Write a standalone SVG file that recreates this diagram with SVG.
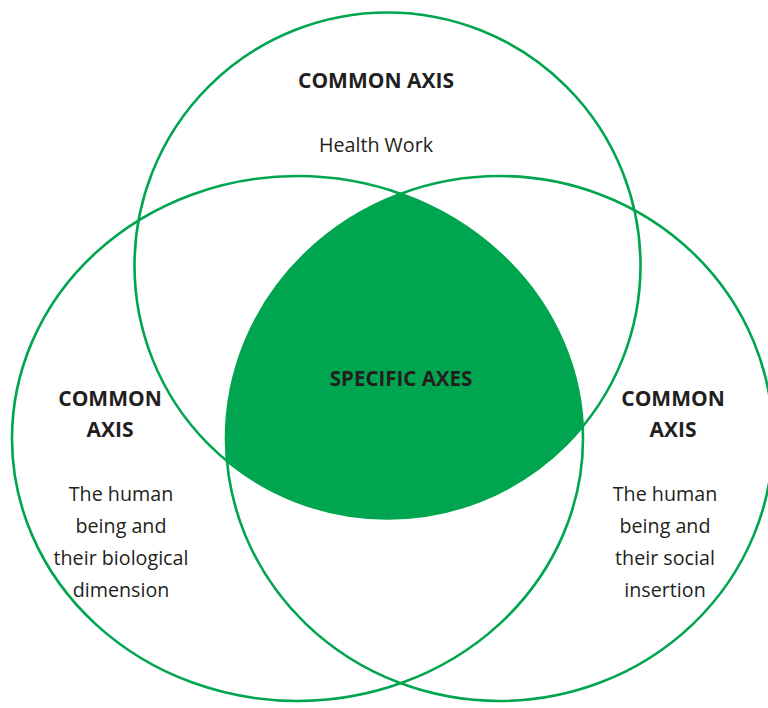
<svg xmlns="http://www.w3.org/2000/svg" width="768" height="708" viewBox="0 0 768 708">
<style>
.ring{fill:none;stroke:#00a550;stroke-width:2.6}
.t{font-family:"Open Sans","Noto Sans","Liberation Sans",sans-serif;fill:#231f20;text-anchor:middle}
.b{font-weight:700;font-size:21px}
.r{font-size:19.7px}
</style>
<defs>
<clipPath id="cL"><ellipse cx="297.5" cy="438.5" rx="285.5" ry="262.5"/></clipPath>
<clipPath id="cR"><ellipse cx="499.5" cy="438.5" rx="273.5" ry="262.5"/></clipPath>
</defs>
<rect width="768" height="708" fill="#fff"/>
<g id="specific">
<g clip-path="url(#cL)"><g clip-path="url(#cR)"><circle cx="387.5" cy="265.5" r="253" fill="#00a54f"/></g></g>
<text class="t b" x="401" y="386" style="font-size:20.5px">SPECIFIC AXES</text>
</g>
<g id="connectors">
<circle class="ring" cx="387.5" cy="265.5" r="253"/>
<ellipse class="ring" cx="297.5" cy="438.5" rx="285.5" ry="262.5"/>
<ellipse class="ring" cx="499.5" cy="438.5" rx="273.5" ry="262.5"/>
</g>
<g id="top">
<text class="t b" x="376" y="88">COMMON AXIS</text>
<text class="t r" x="376" y="152">Health Work</text>
</g>
<g id="left">
<text class="t b" x="110" y="406">COMMON</text>
<text class="t b" x="110" y="437">AXIS</text>
<text class="t r" x="121" y="501">The human</text>
<text class="t r" x="121" y="533">being and</text>
<text class="t r" x="121" y="565">their biological</text>
<text class="t r" x="121" y="597">dimension</text>
</g>
<g id="right">
<text class="t b" x="673" y="406">COMMON</text>
<text class="t b" x="673" y="437">AXIS</text>
<text class="t r" x="665" y="501">The human</text>
<text class="t r" x="665" y="533">being and</text>
<text class="t r" x="665" y="565">their social</text>
<text class="t r" x="665" y="597">insertion</text>
</g>
</svg>
